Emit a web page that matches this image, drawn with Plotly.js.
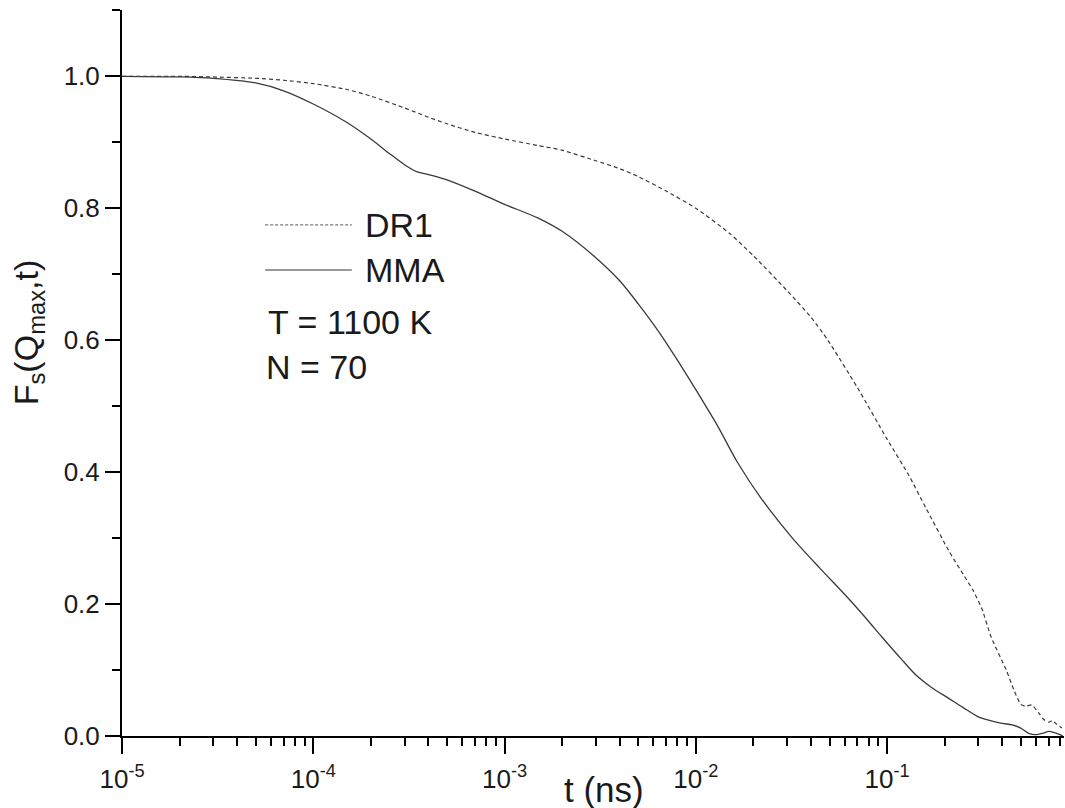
<!DOCTYPE html>
<html>
<head>
<meta charset="utf-8">
<script src="https://cdn.plot.ly/plotly-3.0.1.min.js"></script>
<style>html,body{margin:0;padding:0;background:#fff;}#chart{width:1065px;height:808px;}</style>
</head>
<body>
<div id="chart"></div>
<script>
// ---- data ----
const tDR1 = [1e-5, 2e-5, 3e-5, 5e-5, 7e-5, 1e-4, 1.5e-4, 2e-4, 3e-4, 4e-4, 5e-4, 7e-4,
  1e-3, 1.5e-3, 2e-3, 3e-3, 4e-3, 5e-3, 7e-3, 1e-2, 1.5e-2, 2e-2, 3e-2, 4e-2, 4.9e-2, 7e-2,
  0.1, 0.13, 0.16, 0.21, 0.25, 0.28, 0.313, 0.35, 0.42, 0.46, 0.5, 0.53, 0.57, 0.62, 0.66,
  0.70, 0.73, 0.77, 0.82];
const fDR1 = [1.0, 1.0, 0.999, 0.997, 0.994, 0.989, 0.98, 0.97, 0.952, 0.938, 0.928, 0.915,
  0.905, 0.895, 0.888, 0.872, 0.86, 0.848, 0.826, 0.80, 0.762, 0.728, 0.675, 0.635, 0.60, 0.528,
  0.45, 0.395, 0.345, 0.281, 0.245, 0.222, 0.193, 0.15, 0.10, 0.07, 0.048, 0.045, 0.047, 0.035, 0.025,
  0.021, 0.023, 0.018, 0.012];

const tMMA = [1e-5, 2e-5, 3e-5, 5e-5, 7e-5, 1e-4, 1.5e-4, 2e-4, 2.5e-4, 3e-4, 3.5e-4, 4e-4,
  5e-4, 7e-4, 1e-3, 1.5e-3, 2e-3, 3e-3, 4e-3, 5e-3, 6.5e-3, 8e-3, 1e-2, 1.3e-2, 1.65e-2, 2.2e-2,
  3.2e-2, 4.5e-2, 6.3e-2, 8e-2, 0.094, 0.12, 0.142, 0.17, 0.21, 0.25, 0.30, 0.35, 0.40, 0.45,
  0.50, 0.55, 0.60, 0.65, 0.70, 0.75, 0.80, 0.83];
const fMMA = [1.0, 0.999, 0.997, 0.99, 0.978, 0.958, 0.93, 0.905, 0.883, 0.866, 0.855, 0.851,
  0.843, 0.826, 0.806, 0.785, 0.765, 0.725, 0.69, 0.655, 0.61, 0.57, 0.525, 0.47, 0.415, 0.36,
  0.30, 0.253, 0.208, 0.174, 0.15, 0.115, 0.092, 0.074, 0.057, 0.043, 0.029, 0.023, 0.019, 0.017,
  0.012, 0.004, 0.002, 0.004, 0.007, 0.005, 0.002, 0.0];

const xTickVals = [1e-5, 1e-4, 1e-3, 1e-2, 1e-1];
const xTickText = ['10<sup>-5</sup>', '10<sup>-4</sup>', '10<sup>-3</sup>', '10<sup>-2</sup>', '10<sup>-1</sup>'];
const seriesNames = ['DR1', 'MMA'];
const infoLines = ['T = 1100 K', 'N = 70'];

// minor tick positions on the log axis (2..9 in each decade)
const xMinor = [];
for (let e = -5; e <= -1; e++) {
  for (let m = 2; m <= 9; m++) xMinor.push(m * Math.pow(10, e));
}

const FONT = 'Arial, "Liberation Sans", Helvetica, sans-serif';
const INK = '#1a1a1a';

const traces = [
  {x: tDR1, y: fDR1, name: seriesNames[0], mode: 'lines', type: 'scatter',
   line: {color: '#3a3a3a', width: 1.2, dash: '4px,3px', shape: 'spline', smoothing: 0.6}},
  {x: tMMA, y: fMMA, name: seriesNames[1], mode: 'lines', type: 'scatter',
   line: {color: '#3a3a3a', width: 1.3, shape: 'spline', smoothing: 0.8}}
];

const layout = {
  width: 1065, height: 808,
  margin: {l: 122, r: 1, t: 10, b: 72, pad: 0},
  paper_bgcolor: '#fff', plot_bgcolor: '#fff',
  showlegend: false,
  font: {family: FONT, color: INK, size: 26},
  xaxis: {
    type: 'log', range: [-5, -0.075],
    showline: true, linecolor: '#000', linewidth: 2,
    ticks: 'outside', ticklen: 16, tickwidth: 2, tickcolor: '#000',
    tickmode: 'array', tickvals: xTickVals, ticktext: xTickText,
    tickfont: {family: FONT, size: 26, color: INK},
    ticklabelstandoff: 3,
    showgrid: false, zeroline: false,
    minor: {tickmode: 'array', tickvals: xMinor, ticks: 'outside', ticklen: 8, tickwidth: 2, tickcolor: '#000', showgrid: false}
  },
  yaxis: {
    range: [0, 1.1005],
    showline: true, linecolor: '#000', linewidth: 2,
    ticks: 'outside', ticklen: 15, tickwidth: 2, tickcolor: '#000',
    tick0: 0, dtick: 0.2, tickformat: '.1f',
    tickfont: {family: FONT, size: 26, color: INK},
    showgrid: false, zeroline: false,
    minor: {tick0: 0, dtick: 0.1, ticks: 'outside', ticklen: 8, tickwidth: 2, tickcolor: '#000', showgrid: false}
  },
  shapes: [
    {type: 'line', xref: 'paper', yref: 'paper', x0: 0.152, x1: 0.244, y0: 0.704, y1: 0.704,
     line: {color: '#555', width: 1, dash: '3px,2px'}},
    {type: 'line', xref: 'paper', yref: 'paper', x0: 0.152, x1: 0.244, y0: 0.642, y1: 0.642,
     line: {color: '#999', width: 2}}
  ],
  annotations: [
    {xref: 'paper', yref: 'paper', x: 0.256, y: 0.704, xanchor: 'left', yanchor: 'middle',
     text: seriesNames[0], showarrow: false, font: {family: FONT, size: 34, color: INK}},
    {xref: 'paper', yref: 'paper', x: 0.256, y: 0.642, xanchor: 'left', yanchor: 'middle',
     text: seriesNames[1], showarrow: false, font: {family: FONT, size: 34, color: INK}},
    {xref: 'paper', yref: 'paper', x: 0.153, y: 0.570, xanchor: 'left', yanchor: 'middle',
     text: infoLines[0], showarrow: false, font: {family: FONT, size: 34, color: INK}},
    {xref: 'paper', yref: 'paper', x: 0.151, y: 0.508, xanchor: 'left', yanchor: 'middle',
     text: infoLines[1], showarrow: false, font: {family: FONT, size: 34, color: INK}},
    // axis titles
    {xref: 'paper', yref: 'paper', x: 0.512, y: -0.074, xanchor: 'center', yanchor: 'middle',
     text: 't (ns)', showarrow: false, font: {family: FONT, size: 35, color: INK}},
    {xref: 'paper', yref: 'paper', x: -0.0998, y: 0.556, xanchor: 'center', yanchor: 'middle',
     textangle: -90, text: 'F<sub>s</sub>(Q<sub>max</sub>,t)', showarrow: false,
     font: {family: FONT, size: 34, color: INK}}
  ]
};

Plotly.newPlot('chart', traces, layout, {staticPlot: true, displayModeBar: false});
</script>
</body>
</html>
